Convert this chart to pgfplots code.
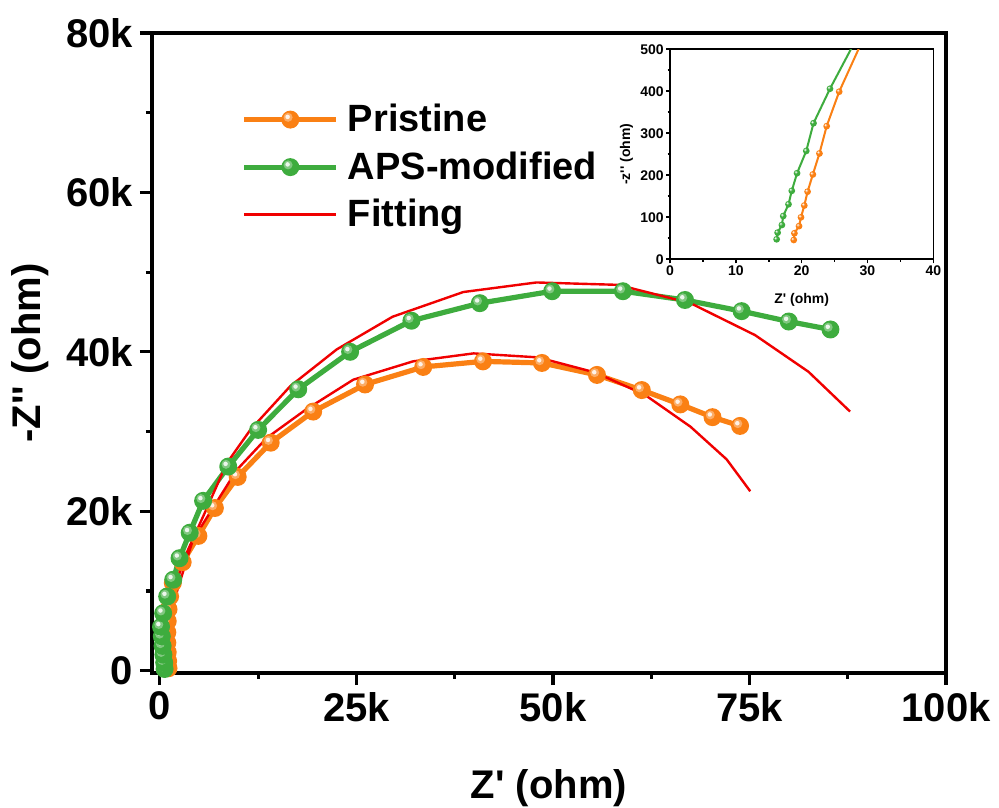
\documentclass[border=0pt]{standalone}
\usepackage{fontspec}
\setmainfont{Liberation Sans}[Ligatures=TeXOff]
\usepackage{pgfplots}
\pgfplotsset{compat=1.18}
\definecolor{cOr}{RGB}{250,128,20}
\definecolor{cGr}{RGB}{62,172,62}
\definecolor{cRd}{RGB}{240,0,0}

\pgfdeclareplotmark{shinyball}{%
  \pgfpathcircle{\pgfpointorigin}{\pgfplotmarksize}\pgfusepathqfill
  \pgfscope
  \pgfsetfillcolor{white}\pgfsetfillopacity{0.35}%
  \pgfpathcircle{\pgfpoint{-0.25\pgfplotmarksize}{0.25\pgfplotmarksize}}{0.5\pgfplotmarksize}\pgfusepathqfill
  \pgfsetfillopacity{0.85}%
  \pgfpathcircle{\pgfpoint{-0.3\pgfplotmarksize}{0.3\pgfplotmarksize}}{0.25\pgfplotmarksize}\pgfusepathqfill
  \endpgfscope
}

\pgfplotstableread{
x y
1100 300
1050 1200
1000 2300
950 3500
950 4800
1000 6200
1100 7700
1300 9300
1650 11000
2900 13600
4900 16900
7000 20400
9900 24300
14100 28600
19500 32500
26100 35900
33500 38100
41100 38800
48600 38600
55600 37100
61300 35200
66200 33400
70300 31800
73800 30700
}\pristine

\pgfplotstableread{
x y
600 200
550 1000
450 2000
350 3100
250 4300
150 5500
420 7200
930 9300
1700 11400
2500 14100
3800 17300
5500 21300
8700 25600
12500 30200
17600 35300
24200 40000
32000 43900
40700 46100
49900 47600
58900 47600
66800 46500
74000 45100
80000 43800
85300 42800
}\aps

\pgfplotstableread{
x y
0 0
500 3000
1200 6000
2200 10000
4200 16400
9800 25200
13600 29200
18500 32700
24600 36500
32200 38800
39900 39800
48100 39300
55400 37400
61700 34600
67500 30600
72100 26500
75100 22500
}\fitpristine

\pgfplotstableread{
x y
0 0
400 3000
900 5500
1700 10100
2500 12200
3600 15200
5900 20200
8500 26000
11500 30200
16600 35700
22500 40300
29600 44400
38600 47500
47900 48700
58300 48400
67500 46100
75700 42100
82500 37500
87800 32500
}\fitaps

\pgfplotstableread{
x y
18.8 46
18.9 62
19.6 79
19.9 100
20.4 128
20.9 161
21.7 202
22.7 252
23.8 317
25.7 399
29.5 530
}\insetpristine

\pgfplotstableread{
x y
16.2 47.6
16.35 63.5
17.0 81.7
17.2 103
18.0 131
18.5 163
19.3 205
20.7 258
21.8 324
24.3 406
29.5 560
}\insetaps

\begin{document}
\begin{tikzpicture}
\path[use as bounding box] (-76pt,-67pt) rectangle (423.5pt,336.5pt);
\begin{axis}[
  at={(0,0)}, anchor=south west,
  scale only axis, width=397pt, height=320pt,
  xmin=-1000, xmax=100000, ymin=-300, ymax=80000,
  axis line style={line width=1.6pt},
  xtick={0,25000,50000,75000,100000}, xticklabels={0,25k,50k,75k,100k},
  ytick={0,20000,40000,60000,80000}, yticklabels={0,20k,40k,60k,80k},
  minor x tick num=1, minor y tick num=1,
  tick align=outside, xtick pos=bottom, ytick pos=left,
  major tick length=6pt, minor tick length=3pt,
  every tick/.style={line width=1.6pt, black},
  scaled ticks=false,
  tick label style={font=\fontsize{20}{24}\selectfont\bfseries},
  /pgf/number format/assume math mode=true,
  xlabel={Z' (ohm)}, ylabel={-Z'' (ohm)},
  label style={font=\fontsize{20}{24}\selectfont\bfseries},
  xlabel style={at={(axis description cs:0.5,-0.18)},anchor=center},
  ylabel style={at={(axis description cs:-0.154,0.5)},anchor=center},
  legend cell align=left,
  legend style={draw=none, fill=none, at={(rel axis cs:0.1125,0.897)}, anchor=north west,
    font=\fontsize{19}{23}\selectfont\bfseries, row sep=3.5pt, column sep=2pt, inner sep=0pt, nodes={inner sep=2.5pt}},
  legend image code/.code={\draw[mark repeat=2,mark phase=2,#1] plot coordinates {(0pt,0pt) (23pt,0pt) (46pt,0pt)};},
]
\addplot[cOr, line width=2.6pt, mark=shinyball, mark size=4.5pt, mark options={fill=cOr}] table {\pristine};
\addlegendentry{Pristine}
\addplot[cGr, line width=2.6pt, mark=shinyball, mark size=4.5pt, mark options={fill=cGr}] table {\aps};
\addlegendentry{APS-modified}
\addplot[cRd, line width=1.2pt, no markers] table {\fitpristine};
\addlegendentry{Fitting}
\addplot[cRd, line width=1.2pt, no markers, forget plot] table {\fitaps};
\end{axis}

\begin{axis}[
  at={(259pt,206.85pt)}, anchor=south west,
  scale only axis, width=131.65pt, height=105pt,
  axis background/.style={fill=white},
  xmin=0, xmax=40, ymin=0, ymax=500,
  xtick={0,10,20,30,40}, ytick={0,100,200,300,400,500},
  minor x tick num=1, minor y tick num=1,
  tick align=outside, xtick pos=bottom, ytick pos=left,
  major tick length=2pt, minor tick length=1.2pt,
  axis line style={line width=0.8pt},
  every tick/.style={line width=0.8pt, black},
  tick label style={font=\fontsize{7}{8}\selectfont\bfseries, inner sep=1pt},
  /pgf/number format/assume math mode=true,
  xlabel={Z' (ohm)}, ylabel={-z'' (ohm)},
  label style={font=\fontsize{7}{8}\selectfont\bfseries},
  xlabel style={at={(axis description cs:0.5,-0.194)},anchor=center},
  ylabel style={at={(axis description cs:-0.165,0.5)},anchor=center},
]
\addplot[cOr, line width=1pt, mark=shinyball, mark size=1.7pt, mark options={fill=cOr}] table {\insetpristine};
\addplot[cGr, line width=1pt, mark=shinyball, mark size=1.7pt, mark options={fill=cGr}] table {\insetaps};
\end{axis}
\end{tikzpicture}
\end{document}
